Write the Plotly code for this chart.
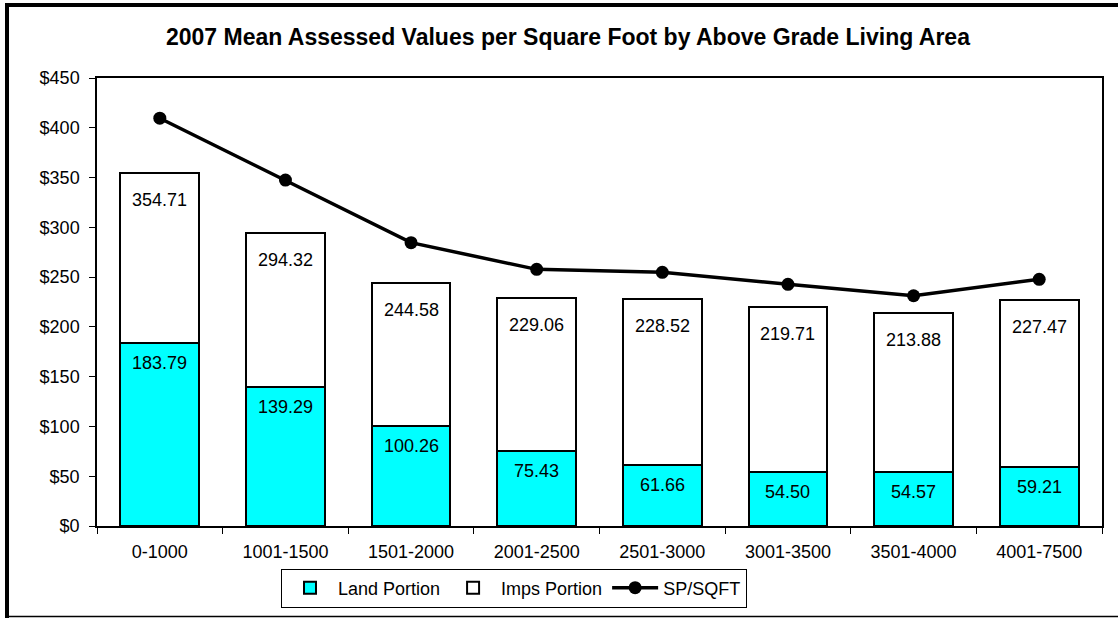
import plotly.graph_objects as go

categories = ["0-1000", "1001-1500", "1501-2000", "2001-2500",
              "2501-3000", "3001-3500", "3501-4000", "4001-7500"]
land_portion = [183.79, 139.29, 100.26, 75.43, 61.66, 54.50, 54.57, 59.21]
total_value = [354.71, 294.32, 244.58, 229.06, 228.52, 219.71, 213.88, 227.47]
sp_sqft = [409.6, 347.5, 284.6, 257.8, 254.8, 242.8, 231.3, 247.8]
y_ticks = [0, 50, 100, 150, 200, 250, 300, 350, 400, 450]
y_tick_text = ["$" + str(v) for v in y_ticks]

imps_portion = [round(t - l, 2) for t, l in zip(total_value, land_portion)]

FONT = "Liberation Sans, Arial, sans-serif"
FS = 18

fig = go.Figure()
fig.add_trace(go.Bar(
    x=categories, y=land_portion, name="Land Portion",
    marker=dict(color="#00FFFF", line=dict(color="black", width=2)),
    hoverinfo="x+y",
))
fig.add_trace(go.Bar(
    x=categories, y=imps_portion, name="Imps Portion",
    marker=dict(color="white", line=dict(color="black", width=2)),
    hoverinfo="x+y",
))
fig.add_trace(go.Scatter(
    x=categories, y=sp_sqft, name="SP/SQFT", mode="lines+markers",
    line=dict(color="black", width=3.5),
    marker=dict(color="black", size=13),
))

annotations = []
for c, l in zip(categories, land_portion):
    annotations.append(dict(x=c, y=l, xref="x", yref="y", text=f"{l:.2f}",
                            showarrow=False, yanchor="middle", yshift=-20,
                            font=dict(family=FONT, size=FS, color="black")))
for c, t in zip(categories, total_value):
    annotations.append(dict(x=c, y=t, xref="x", yref="y", text=f"{t:.2f}",
                            showarrow=False, yanchor="middle", yshift=-27,
                            font=dict(family=FONT, size=FS, color="black")))

W, H = 1118, 618
L, R, T, B = 97, 16, 78, 92
pw, ph = W - L - R, H - T - B

def px_x(p):
    return (p - L) / pw

def px_y(p):
    return (H - B - p) / ph

shapes = [
    dict(type="line", xref="paper", yref="paper", x0=px_x(5), x1=px_x(1130),
         y0=px_y(5), y1=px_y(5), line=dict(color="black", width=4)),
    dict(type="line", xref="paper", yref="paper", x0=px_x(7), x1=px_x(7),
         y0=px_y(3), y1=px_y(630), line=dict(color="black", width=4)),
    dict(type="line", xref="paper", yref="paper", x0=px_x(5), x1=px_x(1130),
         y0=px_y(616.5), y1=px_y(616.5), line=dict(color="black", width=1.5)),
]

fig.update_layout(
    width=W, height=H,
    margin=dict(l=L, r=R, t=T, b=B, autoexpand=False),
    paper_bgcolor="white", plot_bgcolor="white",
    barmode="stack", bargap=0.373,
    font=dict(family=FONT, size=FS, color="black"),
    title=dict(text="<b>2007 Mean Assessed Values per Square Foot by Above Grade Living Area</b>",
               x=0.508, xanchor="center", y=1 - 37 / H, yanchor="middle",
               font=dict(family=FONT, size=23, color="black")),
    xaxis=dict(showline=True, linecolor="black", linewidth=1.5, mirror=True,
               ticks="outside", ticklen=6, tickcolor="black", tickwidth=1,
               tickson="boundaries", showgrid=False, ticklabelstandoff=9,
               tickfont=dict(size=FS)),
    yaxis=dict(range=[0, 450], tickvals=y_ticks, ticktext=y_tick_text,
               showline=True, linecolor="black", linewidth=1.5, mirror=True,
               ticks="outside", ticklen=6, tickcolor="black", tickwidth=1,
               showgrid=False, zeroline=False, ticklabelstandoff=6,
               tickfont=dict(size=FS)),
    legend=dict(orientation="h", x=px_x(514), xanchor="center",
                y=px_y(588), yanchor="middle",
                bordercolor="black", borderwidth=1, bgcolor="white",
                font=dict(size=FS), traceorder="normal", itemwidth=46),
    annotations=annotations,
    shapes=shapes,
)

fig.write_html("out.html",
               config={"displayModeBar": False},
               post_script="document.body.style.margin='0';document.body.style.overflow='hidden';")
